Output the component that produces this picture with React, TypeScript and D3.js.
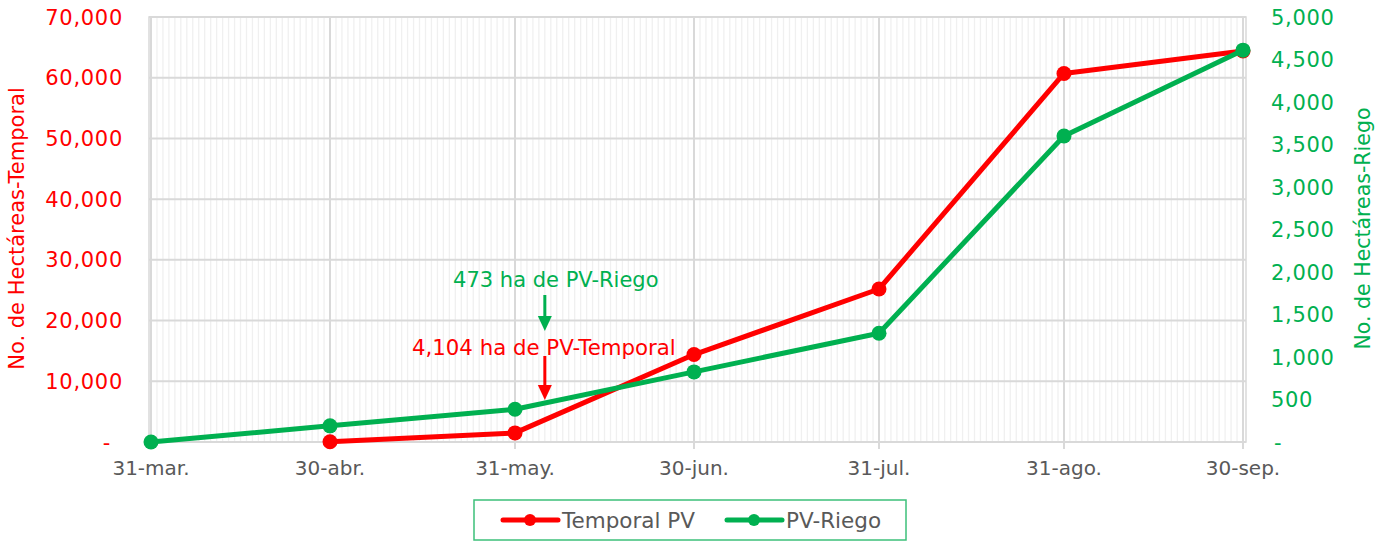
import React from "react";
import * as d3 from "d3";

const dates = ["2024-03-31", "2024-04-30", "2024-05-31", "2024-06-30", "2024-07-31", "2024-08-31", "2024-09-30"];
const tickLabels = ["31-mar.", "30-abr.", "31-may.", "30-jun.", "31-jul.", "31-ago.", "30-sep."];
const temporalDates = ["2024-04-30", "2024-05-31", "2024-06-30", "2024-07-31", "2024-08-31", "2024-09-30"];
const temporalValues = [50, 1500, 14400, 25200, 60700, 64400];
const riegoDates = ["2024-03-31", "2024-04-30", "2024-05-31", "2024-06-30", "2024-07-31", "2024-08-31", "2024-09-30"];
const riegoValues = [0, 190, 385, 825, 1280, 3600, 4610];
const leftTicks = [0, 10000, 20000, 30000, 40000, 50000, 60000, 70000];
const rightTicks = [0, 500, 1000, 1500, 2000, 2500, 3000, 3500, 4000, 4500, 5000];
const annotationDate = "2024-06-05";
const annotationRiego = "473 ha de PV-Riego";
const annotationTemporal = "4,104 ha de PV-Temporal";
const seriesNames = ["Temporal PV", "PV-Riego"];

const RED = "#FF0000";
const GREEN = "#00B050";
const FONT = "'DejaVu Sans', sans-serif";

const parse = d3.timeParse("%Y-%m-%d");

export default function App() {
  const W = 1382, H = 541;
  const x0 = 151, x1 = 1243, yTop = 17, yBot = 442;
  const x = d3.scaleTime().domain([parse(dates[0])!, parse(dates[dates.length - 1])!]).range([x0, x1]);
  const yL = d3.scaleLinear().domain([0, 70000]).range([yBot, yTop]);
  const yR = d3.scaleLinear().domain([0, 5000]).range([yBot, yTop]);
  const days = d3.timeDay.range(parse(dates[0])!, d3.timeDay.offset(parse(dates[dates.length - 1])!, 1));
  const fmt = d3.format(",");

  const lineT = d3.line<[Date, number]>().x(d => x(d[0])).y(d => yL(d[1]));
  const lineR = d3.line<[Date, number]>().x(d => x(d[0])).y(d => yR(d[1]));
  const tData: [Date, number][] = temporalDates.map((d, i) => [parse(d)!, temporalValues[i]]);
  const rData: [Date, number][] = riegoDates.map((d, i) => [parse(d)!, riegoValues[i]]);
  const ax = x(parse(annotationDate)!);

  return (
    <svg width={W} height={H} style={{ position: "fixed", left: 0, top: 0, background: "#fff" }} fontFamily={FONT}>
      {/* minor daily grid */}
      {days.map((d, i) => (
        <line key={"m" + i} x1={x(d)} x2={x(d)} y1={yTop} y2={yBot} stroke="#F0F0F0" strokeWidth={1.3} />
      ))}
      {/* horizontal grid */}
      {leftTicks.map(t => (
        <line key={"h" + t} x1={149} x2={1246} y1={yL(t)} y2={yL(t)} stroke="#D9D9D9" strokeWidth={2} />
      ))}
      {/* major vertical grid */}
      {dates.map(d => (
        <line key={"v" + d} x1={x(parse(d)!)} x2={x(parse(d)!)} y1={yTop} y2={yBot + 7} stroke="#D9D9D9" strokeWidth={2} />
      ))}
      <rect x={149} y={yTop} width={1246 - 149} height={yBot - yTop} fill="none" stroke="#D9D9D9" strokeWidth={1.5} />
      {/* left ticks */}
      {leftTicks.map(t => (
        <text key={"lt" + t} x={t === 0 ? 111 : 123} y={yL(t)} dy="0.36em" textAnchor="end" fill={RED} fontSize={21} letterSpacing={0.7}>
          {t === 0 ? "-" : fmt(t)}
        </text>
      ))}
      {rightTicks.map(t => (
        <text key={"rt" + t} x={t === 0 ? 1274 : 1271} y={yR(t)} dy="0.36em" textAnchor="start" fill={GREEN} fontSize={21} letterSpacing={0.7}>
          {t === 0 ? "-" : fmt(t)}
        </text>
      ))}
      {dates.map((d, i) => (
        <text key={"xt" + d} x={x(parse(d)!)} y={468} dy="0.36em" textAnchor="middle" fill="#595959" fontSize={20}>
          {tickLabels[i]}
        </text>
      ))}
      <text transform={`translate(24,${(yTop + yBot) / 2 - 1}) rotate(-90)`} textAnchor="middle" fill={RED} fontSize={21}>
        No. de Hectáreas-Temporal
      </text>
      <text transform={`translate(1370,${(yTop + yBot) / 2 - 1}) rotate(-90)`} textAnchor="middle" fill={GREEN} fontSize={20.5}>
        No. de Hectáreas-Riego
      </text>
      {/* series */}
      <path d={lineT(tData)!} fill="none" stroke={RED} strokeWidth={5} strokeLinejoin="round" />
      {tData.map((d, i) => <circle key={"tc" + i} cx={x(d[0])} cy={yL(d[1])} r={7.5} fill={RED} />)}
      <path d={lineR(rData)!} fill="none" stroke={GREEN} strokeWidth={5} strokeLinejoin="round" />
      {rData.map((d, i) => <circle key={"rc" + i} cx={x(d[0])} cy={yR(d[1])} r={7.5} fill={GREEN} />)}
      {/* annotations */}
      <text x={ax + 11} y={279} dy="0.36em" textAnchor="middle" fill={GREEN} fontSize={21}>{annotationRiego}</text>
      <line x1={ax} x2={ax} y1={295} y2={318} stroke={GREEN} strokeWidth={3} />
      <path d={`M${ax - 7},${316} L${ax + 7},${316} L${ax},${331} Z`} fill={GREEN} />
      <text x={ax - 1} y={347} dy="0.36em" textAnchor="middle" fill={RED} fontSize={21.3}>{annotationTemporal}</text>
      <line x1={ax} x2={ax} y1={356} y2={387} stroke={RED} strokeWidth={3} />
      <path d={`M${ax - 7},${385} L${ax + 7},${385} L${ax},${400} Z`} fill={RED} />
      {/* legend */}
      <rect x={474} y={500} width={432} height={40} fill="#fff" stroke="#3CC07A" strokeWidth={1.5} />
      <line x1={503} x2={558} y1={520} y2={520} stroke={RED} strokeWidth={5} strokeLinecap="round" />
      <circle cx={530} cy={520} r={6} fill={RED} />
      <text x={562} y={520} dy="0.36em" fill="#595959" fontSize={21.5}>{seriesNames[0]}</text>
      <line x1={727} x2={782} y1={520} y2={520} stroke={GREEN} strokeWidth={5} strokeLinecap="round" />
      <circle cx={754} cy={520} r={6} fill={GREEN} />
      <text x={786} y={520} dy="0.36em" fill="#595959" fontSize={21.5}>{seriesNames[1]}</text>
    </svg>
  );
}
